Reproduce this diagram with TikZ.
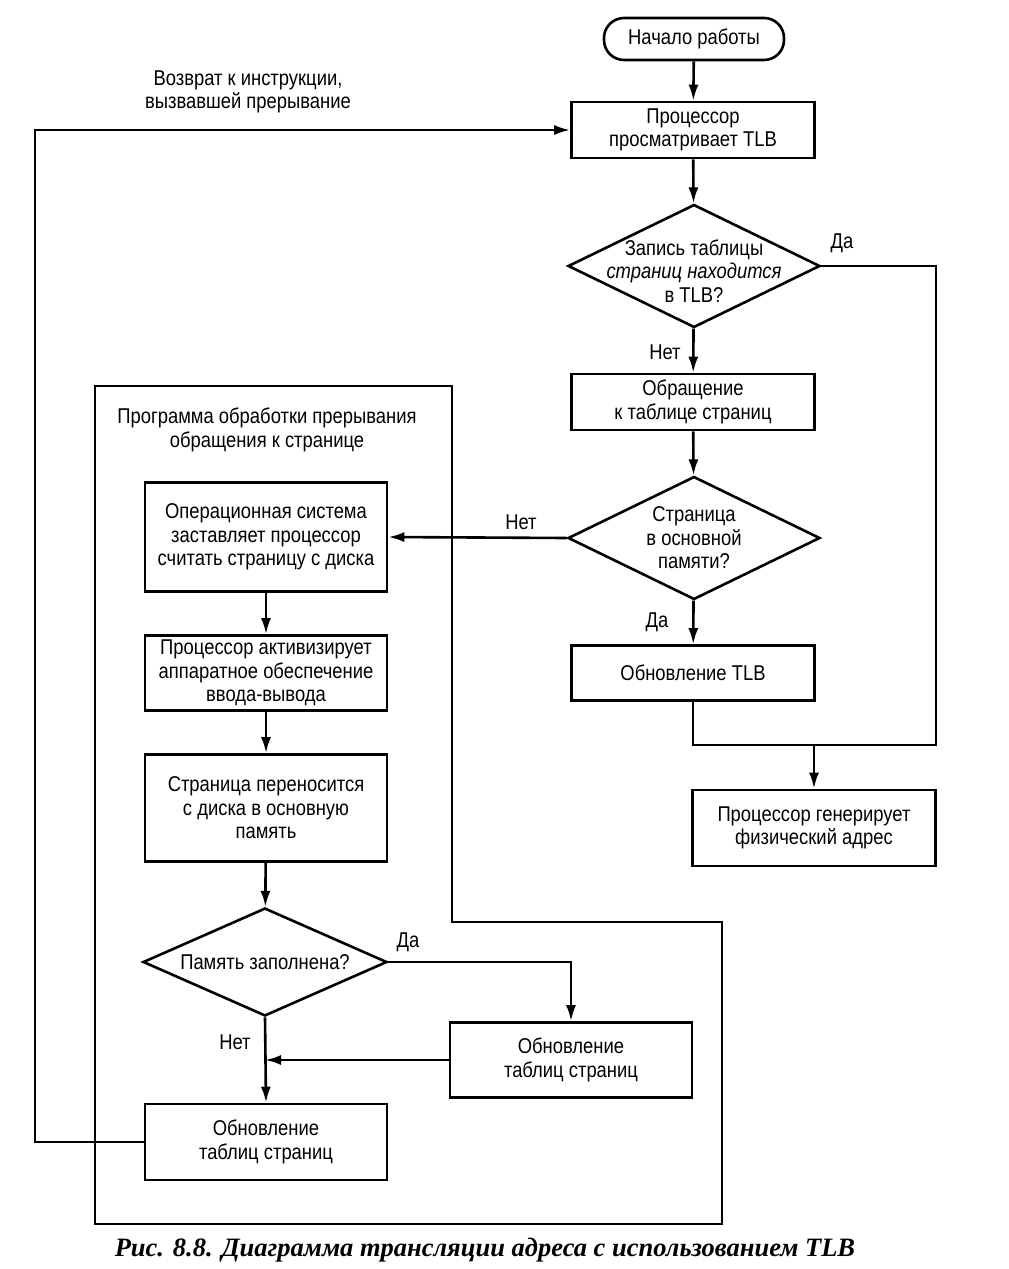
\documentclass[tikz,border=0pt]{standalone}
\usepackage{fontspec}
\setmainfont{Liberation Sans}[FakeStretch=0.86]
\newfontfamily\capfont{Liberation Serif}
\usetikzlibrary{arrows.meta,shapes.geometric,positioning}
\tikzset{
    proc box/.style={rectangle, draw, line width=2.6pt, align=center, minimum width=243pt, inner sep=4pt},
    start box/.style={rectangle, rounded corners=20pt, draw, line width=2.6pt, minimum width=180pt, minimum height=42pt},
    decision/.style={diamond, draw, line width=2.6pt, inner sep=0pt},
    flow/.style={-{Latex[length=16pt,width=10pt]}, line width=2.6pt},
    link/.style={line width=2.6pt, line join=miter},
    caption/.style={font=\capfont\bfseries\itshape\fontsize{26.5}{30}\selectfont}
}
\begin{document}
\begin{tikzpicture}[x=1pt, y=-1pt, every node/.style={font=\fontsize{21.4}{23.5}\selectfont}]
    \useasboundingbox (0,0) rectangle (1009,1269);
    % main path
    \node[start box] (start) at (694,39) {Начало работы};
    \node[proc box, minimum height=56pt] (scan) at (693,130) {Процессор\\просматривает TLB};
    \node[decision, minimum width=252pt, minimum height=123pt] (intlb) at (694,266) {};
    \node[align=center] (intlbtext) at (694,271) {Запись таблицы\\\textit{страниц находится}\\в TLB?};
    \node[proc box, minimum height=56pt] (walk) at (693,402) {Обращение\\к таблице страниц};
    \node[decision, minimum width=252pt, minimum height=123pt] (inmem) at (694,538) {};
    \node[align=center] (inmemtext) at (694,538) {Страница\\в основной\\памяти?};
    \node[proc box, minimum height=55pt] (tlbupd) at (693,673) {Обновление TLB};
    \node[proc box, minimum height=76pt] (phys) at (814,828) {Процессор генерирует\\физический адрес};
    \coordinate (merge) at (814,745);
    % page fault handler
    \draw[link] (95,386) -- (452,386) -- (452,922) -- (722,922) -- (722,1224) -- (95,1224) -- cycle;
    \node[align=center] (handler) at (267,430) {Программа обработки прерывания\\обращения к странице};
    \node[proc box, minimum width=242pt, minimum height=109pt] (osread) at (266,537) {Операционная система\\заставляет процессор\\считать страницу с диска};
    \node[proc box, minimum width=242pt, minimum height=75pt] (ioact) at (266,673) {Процессор активизирует\\аппаратное обеспечение\\ввода-вывода};
    \node[proc box, minimum width=242pt, minimum height=107pt] (move) at (266,808) {Страница переносится\\с диска в основную\\память};
    \node[decision, minimum width=244pt, minimum height=108pt] (full) at (265,962) {};
    \node (fulltext) at (265,962) {Память заполнена?};
    \node[proc box, minimum width=242pt, minimum height=75pt] (evict) at (571,1060) {Обновление\\таблиц страниц};
    \node[proc box, minimum width=242pt, minimum height=76pt] (ptupd) at (266,1142) {Обновление\\таблиц страниц};
    \coordinate (ret) at (35,1142);
    % connectors
    \draw[flow] (start) -- (scan);
    \draw[flow] (scan) -- (intlb);
    \draw[flow] (intlb) -- (walk);
    \draw[flow] (walk) -- (inmem);
    \draw[flow] (inmem) -- (tlbupd);
    \draw[link] (intlb.east) -| (936,745) -| (tlbupd.south);
    \draw[flow] (merge) -- (phys);
    \draw[flow] (inmem.west) -- (osread.east);
    \draw[flow] (osread) -- (ioact);
    \draw[flow] (ioact) -- (move);
    \draw[flow] (move) -- (full);
    \draw[flow] (full.east) -| (evict.north);
    \draw[flow] (full.south) -- (ptupd.north);
    \draw[flow] (evict.west) -- (full.south |- evict.west);
    \draw[flow] (ptupd.west) -- (ret) |- (scan.west);
    % labels
    \node (yes1) at (842,243) {Да};
    \node (no1) at (665,352) {Нет};
    \node (no2) at (521,522) {Нет};
    \node (yes2) at (657,622) {Да};
    \node (yes3) at (408,942) {Да};
    \node (no3) at (235,1042) {Нет};
    \node[align=center] (retlabel) at (248,92) {Возврат к инструкции,\\вызвавшей прерывание};
    \node[caption] (cap) at (485,1250) {Рис. 8.8. Диаграмма трансляции адреса с использованием TLB};
\end{tikzpicture}
\end{document}
